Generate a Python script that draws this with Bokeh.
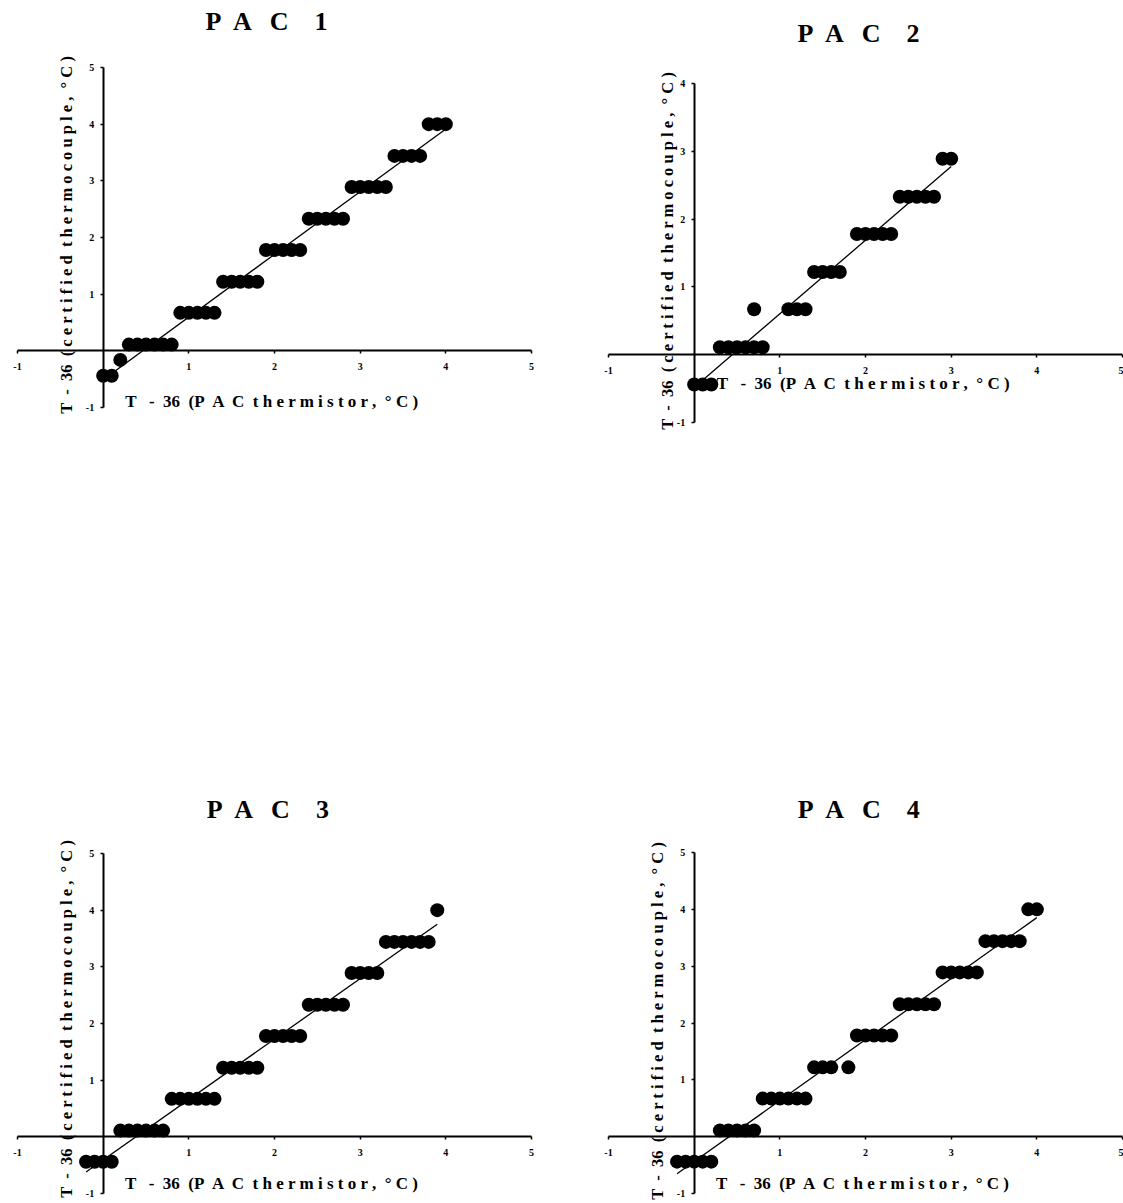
import re
import numpy as np
from bokeh.plotting import figure
from bokeh.layouts import column, row
from bokeh.models import LinearAxis, FixedTicker, Range1d, Label
from bokeh.embed import file_html
from bokeh.resources import INLINE

# ---- data: PAC thermistor reading vs certified thermocouple (both T - 36, deg C)
pac1_x = [0.0, 0.1, 0.2, 0.3, 0.4, 0.5, 0.6, 0.7, 0.8, 0.9, 1.0, 1.1, 1.2, 1.3,
          1.4, 1.5, 1.6, 1.7, 1.8, 1.9, 2.0, 2.1, 2.2, 2.3, 2.4, 2.5, 2.6, 2.7,
          2.8, 2.9, 3.0, 3.1, 3.2, 3.3, 3.4, 3.5, 3.6, 3.7, 3.8, 3.9, 4.0]
pac1_y = [-0.44, -0.44, -0.16, 0.11, 0.11, 0.11, 0.11, 0.11, 0.11,
          0.67, 0.67, 0.67, 0.67, 0.67, 1.22, 1.22, 1.22, 1.22, 1.22,
          1.78, 1.78, 1.78, 1.78, 1.78, 2.33, 2.33, 2.33, 2.33, 2.33,
          2.89, 2.89, 2.89, 2.89, 2.89, 3.44, 3.44, 3.44, 3.44, 4.0, 4.0, 4.0]

pac2_x = [0.0, 0.1, 0.2, 0.3, 0.4, 0.5, 0.6, 0.7, 0.8, 0.7, 1.1, 1.2, 1.3,
          1.4, 1.5, 1.6, 1.7, 1.9, 2.0, 2.1, 2.2, 2.3, 2.4, 2.5, 2.6, 2.7,
          2.8, 2.9, 3.0]
pac2_y = [-0.44, -0.44, -0.44, 0.11, 0.11, 0.11, 0.11, 0.11, 0.11, 0.67,
          0.67, 0.67, 0.67, 1.22, 1.22, 1.22, 1.22, 1.78, 1.78, 1.78, 1.78,
          1.78, 2.33, 2.33, 2.33, 2.33, 2.33, 2.89, 2.89]

pac3_x = [-0.2, -0.1, 0.0, 0.1, 0.2, 0.3, 0.4, 0.5, 0.6, 0.7, 0.8, 0.9, 1.0,
          1.1, 1.2, 1.3, 1.4, 1.5, 1.6, 1.7, 1.8, 1.9, 2.0, 2.1, 2.2, 2.3,
          2.4, 2.5, 2.6, 2.7, 2.8, 2.9, 3.0, 3.1, 3.2, 3.3, 3.4, 3.5, 3.6,
          3.7, 3.8, 3.9]
pac3_y = [-0.44, -0.44, -0.44, -0.44, 0.11, 0.11, 0.11, 0.11, 0.11, 0.11,
          0.67, 0.67, 0.67, 0.67, 0.67, 0.67, 1.22, 1.22, 1.22, 1.22, 1.22,
          1.78, 1.78, 1.78, 1.78, 1.78, 2.33, 2.33, 2.33, 2.33, 2.33,
          2.89, 2.89, 2.89, 2.89, 3.44, 3.44, 3.44, 3.44, 3.44, 3.44, 4.0]

pac4_x = [-0.2, -0.1, 0.0, 0.1, 0.2, 0.3, 0.4, 0.5, 0.6, 0.7, 0.8, 0.9, 1.0,
          1.1, 1.2, 1.3, 1.4, 1.5, 1.6, 1.8, 1.9, 2.0, 2.1, 2.2, 2.3, 2.4,
          2.5, 2.6, 2.7, 2.8, 2.9, 3.0, 3.1, 3.2, 3.3, 3.4, 3.5, 3.6, 3.7,
          3.8, 3.9, 4.0]
pac4_y = [-0.44, -0.44, -0.44, -0.44, -0.44, 0.11, 0.11, 0.11, 0.11, 0.11,
          0.67, 0.67, 0.67, 0.67, 0.67, 0.67, 1.22, 1.22, 1.22, 1.22,
          1.78, 1.78, 1.78, 1.78, 1.78, 2.33, 2.33, 2.33, 2.33, 2.33,
          2.89, 2.89, 2.89, 2.89, 2.89, 3.44, 3.44, 3.44, 3.44, 3.44, 4.0, 4.0]

panel_titles = ["P  A   C    1", "P  A   C    2", "P  A   C    3", "P  A   C    4"]
x_title = "T   -  36  (P  A  C  t h e r m i s t o r ,  \u00b0 C )"
y_title = "T  -  36  ( c e r t i f i e d  t h e r m o c o u p l e ,  \u00b0 C )"
x_ticks = [-1, 1, 2, 3, 4, 5]
y_ticks_5 = [-1, 1, 2, 3, 4, 5]
y_ticks_4 = [-1, 1, 2, 3, 4]
tick_text = {-1: "-1"}

SERIF = "Liberation Serif"
X0, X1, Y0 = -1, 5, -1


def keep_gaps(s):
    # runs of spaces would collapse in SVG text; keep them with no-break spaces
    return re.sub(r" {2,}", lambda m: " " + "\u00a0" * (len(m.group()) - 1), s)


# canvas size of each panel, where the axis box (-1..5, -1..ymax) sits in it,
# and page anchors for the title and the two axis titles
layout_cfg = [
    dict(ox=0, oy=0, w=560, h=600, left=17, top=67, fw=514, fh=340, ymax=5,
         title_at=(267.5, 21), xlab_at=(272.5, 401), ylab_at=(65.5, 234)),
    dict(ox=560, oy=0, w=563, h=600, left=48, top=83, fw=514, fh=339, ymax=4,
         title_at=(859.5, 32.5), xlab_at=(864, 382.5), ylab_at=(667, 250)),
    dict(ox=0, oy=600, w=560, h=603, left=17, top=253, fw=514, fh=340, ymax=5,
         title_at=(268.8, 809), xlab_at=(272.3, 1182.5), ylab_at=(65.5, 1018)),
    dict(ox=560, oy=600, w=563, h=603, left=48, top=252, fw=514, fh=341, ymax=5,
         title_at=(859.7, 809), xlab_at=(863.3, 1182.5), ylab_at=(656.5, 1020)),
]


def canvas_ranges(cfg):
    ux = cfg["fw"] / (X1 - X0)
    uy = cfg["fh"] / (cfg["ymax"] - Y0)
    xs = X0 - cfg["left"] / ux
    ye = cfg["ymax"] + cfg["top"] / uy
    return xs, xs + cfg["w"] / ux, ye - cfg["h"] / uy, ye


def page_to_data(cfg, px, py):
    xs, xe, ys, ye = canvas_ranges(cfg)
    return (xs + (px - cfg["ox"]) / cfg["w"] * (xe - xs),
            ye - (py - cfg["oy"]) / cfg["h"] * (ye - ys))


def make_panel(xs, ys, title, cfg, y_ticks):
    rx0, rx1, ry0, ry1 = canvas_ranges(cfg)
    p = figure(width=cfg["w"], height=cfg["h"],
               x_range=Range1d(rx0, rx1), y_range=Range1d(ry0, ry1),
               x_axis_type=None, y_axis_type=None, title=None,
               toolbar_location=None, output_backend="svg",
               min_border=0, min_border_left=0, min_border_right=0,
               min_border_top=0, min_border_bottom=0,
               outline_line_color=None, background_fill_color="white",
               border_fill_color="white")

    common = dict(axis_line_color="black", axis_line_width=2,
                  major_tick_in=0, major_tick_out=3,
                  major_tick_line_color="black", major_tick_line_width=1.5,
                  minor_tick_in=0, minor_tick_out=0,
                  major_label_overrides=tick_text,
                  major_label_text_font=SERIF,
                  major_label_text_font_style="bold",
                  major_label_text_font_size="10px",
                  major_label_text_color="black")
    xaxis = LinearAxis(fixed_location=0, bounds=(X0, X1),
                       ticker=FixedTicker(ticks=x_ticks),
                       major_label_standoff=9, **common)
    yaxis = LinearAxis(fixed_location=0, bounds=(Y0, cfg["ymax"]),
                       ticker=FixedTicker(ticks=y_ticks),
                       major_label_standoff=6, **common)
    p.add_layout(xaxis, "below")
    p.add_layout(yaxis, "left")

    # least-squares calibration line over the measured span
    k, b = np.polyfit(xs, ys, 1)
    lx = np.array([min(xs), max(xs)])
    p.line(lx, k * lx + b, line_color="black", line_width=1.3)
    p.scatter(xs, ys, size=14, fill_color="black", line_color=None)

    text_style = dict(text_font=SERIF, text_font_style="bold",
                      text_color="black", text_align="center",
                      text_baseline="alphabetic")
    tx, ty = page_to_data(cfg, *cfg["title_at"])
    p.add_layout(Label(x=tx, y=ty, text=keep_gaps(title),
                       text_font_size="26px", **text_style))
    hx, hy = page_to_data(cfg, *cfg["xlab_at"])
    p.add_layout(Label(x=hx, y=hy, text=keep_gaps(x_title),
                       text_font_size="17px", **text_style))
    vx, vy = page_to_data(cfg, *cfg["ylab_at"])
    p.add_layout(Label(x=vx, y=vy, text=keep_gaps(y_title),
                       text_font_size="16.5px", angle=np.pi / 2,
                       angle_units="rad", **text_style))
    return p


p1 = make_panel(pac1_x, pac1_y, panel_titles[0], layout_cfg[0], y_ticks_5)
p2 = make_panel(pac2_x, pac2_y, panel_titles[1], layout_cfg[1], y_ticks_4)
p3 = make_panel(pac3_x, pac3_y, panel_titles[2], layout_cfg[2], y_ticks_5)
p4 = make_panel(pac4_x, pac4_y, panel_titles[3], layout_cfg[3], y_ticks_5)

page = row(column(p1, p3), column(p2, p4))
open("out.html", "w").write(file_html(page, INLINE, title="PAC calibration"))
